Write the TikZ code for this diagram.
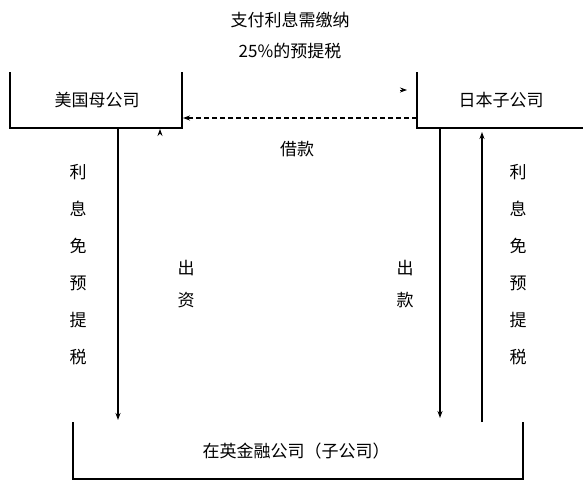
\documentclass[tikz,border=0pt]{standalone}
\usepackage{fontspec}
\newfontfamily\cjk{Noto Sans CJK SC}
\usetikzlibrary{arrows.meta}
\begin{document}
\begin{tikzpicture}[x=1pt,y=-1pt,
  line width=1.4pt,
  lbl/.style={font=\cjk\fontsize{17}{19}\selectfont, inner sep=1pt},
  tip/.style={-{Stealth[length=7pt,width=5pt]}}]
\useasboundingbox (0,0) rectangle (583,479);
% boxes (open top)
\draw (10,72) -- (10,128) -- (182,128) -- (182,72);
\draw (417,72) -- (417,128) -- (583,128);
\draw (73,422) -- (73,479) -- (523,479) -- (523,422);
\node[lbl] (us) at (97,100) {美国母公司};
\node[lbl] (jp) at (501,100) {日本子公司};
\node[lbl] (uk) at (296,451) {在英金融公司（子公司）};
% top text
\node[lbl] (top1) at (290,20) {支付利息需缴纳};
\node[lbl] (top2) at (290,51) {25\%的预提税};
% coordinates
\coordinate (usb) at (118,128);
\coordinate (uka) at (118,420);
\coordinate (jpb) at (440,128);
\coordinate (ukb) at (440,418);
\coordinate (ukc) at (482,422);
\coordinate (jpc) at (482,132);
\coordinate (jpl) at (417,118);
\coordinate (usr) at (183,118);
% connectors
\draw[tip] (usb) -- (uka);
\draw[tip] (jpb) -- (ukb);
\draw[tip] (ukc) -- (jpc);
\draw[tip, dashed, line width=1.1pt, dash pattern=on 5pt off 3pt] (jpl) -- (usr);
% small arrow tips
\coordinate (s1a) at (160,134);
\coordinate (s1b) at (160,129);
\draw[tip, line width=0.8pt] (s1a) -- (s1b);
\coordinate (s2a) at (400,90);
\coordinate (s2b) at (407,90);
\draw[tip, line width=0.8pt] (s2a) -- (s2b);
% labels
\node[lbl] (loan) at (297,149) {借款};
\node[lbl] (lm1) at (186,268) {出};
\node[lbl] (lm2) at (186,300) {资};
\node[lbl] (rm1) at (405,268) {出};
\node[lbl] (rm2) at (405,300) {款};
\foreach \c [count=\i] in {利,息,免,预,提,税}{
  \node[lbl] (lv\i) at (78,{172+37*(\i-1)}) {\c};
  \node[lbl] (rv\i) at (518,{172+37*(\i-1)}) {\c};
}
\end{tikzpicture}
\end{document}
